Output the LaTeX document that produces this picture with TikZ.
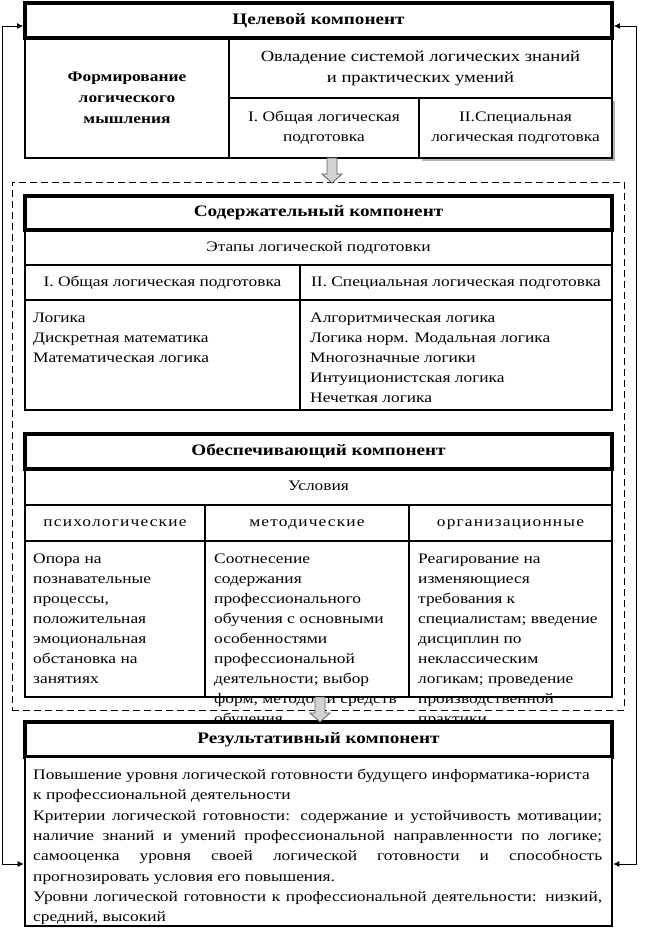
\documentclass[tikz,border=0pt]{standalone}
\usepackage{fontspec}
\setmainfont{Liberation Serif}[FakeStretch=1.2]
\usetikzlibrary{arrows.meta,calc}
\newcommand\bodyfont{\fontsize{14.5}{20}\selectfont}
\newcommand\titlefont{\fontsize{16}{19}\selectfont\bfseries}
\newcommand\spaced{\addfontfeature{LetterSpace=8}}
\tikzset{
  cellbox/.style={draw, line width=2.6pt, inner sep=0pt, align=center, font=\bodyfont},
  headbox/.style={draw, line width=3.8pt, inner sep=0pt, align=center, font=\titlefont, text height=11pt, text depth=3.5pt},
  oneline/.style={text height=10pt, text depth=3pt},
  txt/.style={inner sep=0pt, align=left, anchor=north west, font=\bodyfont},
  blockarrow/.style={draw=gray!75!black, fill=gray!35, line width=0.8pt},
  link/.style={line width=0.8pt, {Latex[length=6pt,width=6pt]}-{Latex[length=6pt,width=6pt]}},
  container/.style={draw, line width=0.8pt, dash pattern=on 7pt off 4pt, inner sep=0pt},
}
% \cell{name}{x1}{y1}{x2}{y2}{style}{text}
\newcommand\cell[7]{\node[#6, minimum width={#4-#2}, minimum height={#5-#3}] (#1) at ({(#2+#4)/2},{(#3+#5)/2}) {#7};}
\newcommand\blockarr[2]{%
  \draw[blockarrow] let \p1=(#1), \p2=(#2) in
    (\x1-5pt,\y1) -- (\x1+5pt,\y1) -- (\x1+5pt,\y2+9pt) -- (\x1+10pt,\y2+9pt)
    -- (\x1,\y2) -- (\x1-10pt,\y2+9pt) -- (\x1-5pt,\y2+9pt) -- cycle;}
\begin{document}
\begin{tikzpicture}[x=1pt,y=-1pt]
\useasboundingbox (0,0) rectangle (649,928);
% ---------- target component
\cell{goal}{25}{3}{612}{38}{headbox}{Целевой компонент}
\cell{form}{25}{38}{229}{158}{cellbox, font=\fontsize{14.5}{21}\selectfont\bfseries}{Формирование\\логического\\мышления}
\cell{master}{229}{38}{612}{98}{cellbox, font=\fontsize{15.5}{21}\selectfont}{\raisebox{3pt}{\parbox{350pt}{\centering Овладение системой логических знаний\\и практических умений}}}
\cell{g1}{229}{98}{419}{158}{cellbox}{\raisebox{4pt}{\parbox{185pt}{\centering I. Общая логическая\\подготовка}}}
\fill[gray!60] (422,101) rectangle (615,161);
\cell{g2}{419}{98}{612}{158}{cellbox, fill=white}{\raisebox{4pt}{\parbox{190pt}{\centering II.Специальная\\логическая подготовка}}}
% ---------- content component
\cell{cont}{25}{196}{612}{230}{headbox}{Содержательный компонент}
\cell{stages}{25}{230}{612}{265}{cellbox, oneline}{Этапы логической подготовки}
\cell{s1}{25}{265}{300}{300}{cellbox, oneline}{I. Общая логическая подготовка}
\cell{s2}{300}{265}{612}{300}{cellbox, oneline}{II. Специальная логическая подготовка}
\cell{s1c}{25}{300}{300}{410}{cellbox}{}
\cell{s2c}{300}{300}{612}{410}{cellbox}{}
\node[txt] (s1t) at (33,313) {Логика\\Дискретная математика\\Математическая логика};
\node[txt] (s2t) at (310,313) {Алгоритмическая логика\\Логика норм. Модальная логика\\Многозначные логики\\Интуиционистская логика\\Нечеткая логика};
% ---------- support component
\cell{supp}{25}{434}{612}{469}{headbox}{Обеспечивающий компонент}
\cell{cond}{25}{469}{612}{505}{cellbox, oneline}{Условия}
\cell{c1}{25}{505}{205}{541}{cellbox, oneline}{\spaced психологические}
\cell{c2}{205}{505}{409}{541}{cellbox, oneline}{\spaced методические}
\cell{c3}{409}{505}{612}{541}{cellbox, oneline}{\spaced организационные}
\cell{c1c}{25}{541}{205}{697}{cellbox}{}
\cell{c2c}{205}{541}{409}{697}{cellbox}{}
\cell{c3c}{409}{541}{612}{697}{cellbox}{}
\node[txt] (c1t) at (33,554) {Опора на\\познавательные\\процессы,\\положительная\\эмоциональная\\обстановка на\\занятиях};
\node[txt] (c2t) at (214,554) {Соотнесение\\содержания\\профессионального\\обучения с основными\\особенностями\\профессиональной\\деятельности; выбор\\форм, методов и средств\\обучения};
\node[txt] (c3t) at (418,554) {Реагирование на\\изменяющиеся\\требования к\\специалистам; введение\\дисциплин по\\неклассическим\\логикам; проведение\\производственной\\практики};
% ---------- dashed container
\cell{box}{12}{182}{624}{710}{container}{}
% ---------- result component
\cell{res}{25}{722}{612}{757}{headbox, fill=white}{Результативный компонент}
\cell{resc}{25}{757}{612}{926}{cellbox, fill=white}{}
\node[txt, font=\fontsize{14.5}{20.3}\selectfont] (rest) at (33,769) {Повышение уровня логической готовности будущего информатика-юриста\\
к профессиональной деятельности\\
\makebox[569pt][s]{Критерии логической готовности: содержание и устойчивость мотивации;}\\
\makebox[569pt][s]{наличие знаний и умений профессиональной направленности по логике;}\\
\makebox[569pt][s]{самооценка уровня своей логической готовности и способность}\\
прогнозировать условия его повышения.\\
\makebox[569pt][s]{Уровни логической готовности к профессиональной деятельности: низкий,}\\
средний, высокий};
% ---------- block arrows
\coordinate (a1s) at (332,158); \coordinate (a1e) at (332,183);
\blockarr{a1s}{a1e}
\coordinate (a2s) at (320,697); \coordinate (a2e) at (320,722);
\blockarr{a2s}{a2e}
% ---------- feedback links
\coordinate (lt) at (2,26); \coordinate (lb) at (2,864);
\coordinate (rt) at (636,26); \coordinate (rb) at (636,864);
\draw[link] (goal.west |- lt) -- (lt) -- (lb) -- (resc.west |- lb);
\draw[link] (goal.east |- rt) -- (rt) -- (rb) -- (resc.east |- rb);
\end{tikzpicture}
\end{document}
